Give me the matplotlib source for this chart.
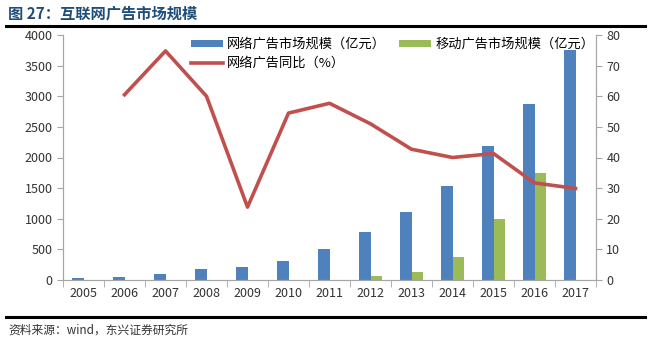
import matplotlib
matplotlib.use("Agg")
import matplotlib.pyplot as plt
import numpy as np

plt.rcParams['font.family'] = ['Noto Sans CJK SC', 'DejaVu Sans']

years = ['2005', '2006', '2007', '2008', '2009', '2010', '2011',
         '2012', '2013', '2014', '2015', '2016', '2017']
online_ad = [38, 49, 103, 174, 212, 315, 506, 776, 1109, 1533, 2180, 2870, 3750]
mobile_ad = [0, 0, 0, 0, 0, 0, 0, 59, 135, 375, 1000, 1745, 0]
growth_years = years[1:]
growth = [60.5, 74.8, 60, 23.8, 54.5, 57.7, 51, 42.7, 40, 41.3, 31.7, 29.9]

blue = '#4F81BD'
green = '#9BBB59'
red = '#C0504D'
grey = '#A6A6A6'

fig = plt.figure(figsize=(6.51, 3.40), dpi=100)
ax = fig.add_axes([63 / 651, 60 / 340, 533 / 651, 245 / 340])
ax2 = ax.twinx()

x = np.arange(len(years))
w = 0.29
ax.bar(x - w / 2, online_ad, w, color=blue, label='网络广告市场规模（亿元）', zorder=2)
ax.bar(x + w / 2, mobile_ad, w, color=green, label='移动广告市场规模（亿元）', zorder=2)
gx = [years.index(y) for y in growth_years]
ax2.plot(gx, growth, color=red, lw=2.6, label='网络广告同比（%）', zorder=3)

ax.set_xlim(-0.5, len(years) - 0.5)
ax.set_ylim(0, 4000)
ax.set_yticks(np.arange(0, 4001, 500))
ax2.set_ylim(0, 80)
ax2.set_yticks(np.arange(0, 81, 10))

ax.set_xticks(x)
ax.set_xticklabels(years)
ax.set_xticks(np.arange(-0.5, len(years), 1), minor=True)
ax.tick_params(axis='x', which='major', length=0, labelsize=9, pad=5, colors='#333333')
ax.tick_params(axis='x', which='minor', length=5, color=grey, direction='out')
ax.tick_params(axis='y', length=4, color=grey, labelsize=9, labelcolor='#333333')
ax2.tick_params(axis='y', length=4, color=grey, labelsize=9, labelcolor='#333333')

for a in (ax, ax2):
    a.spines['top'].set_visible(False)
    for s in ('left', 'right', 'bottom'):
        a.spines[s].set_color(grey)

# column-major fill: blue/line in first column, green in second
h1, l1 = ax.get_legend_handles_labels()
h2, l2 = ax2.get_legend_handles_labels()
handles = [h1[0], h2[0], h1[1]]
labels = [l1[0], l2[0], l1[1]]
ax2.legend(handles, labels, ncol=2, loc='upper left', bbox_to_anchor=(0.23, 1.01),
           frameon=False, fontsize=9.5, handlelength=2.4, handleheight=0.45,
           columnspacing=1.0, labelspacing=0.45, handletextpad=0.35,
           borderaxespad=0)

fig.text(8 / 651, 1 - 13 / 340, '图 27：互联网广告市场规模', fontsize=11, fontweight='bold',
         color='#1F4E79', va='center', ha='left')
fig.add_artist(plt.Line2D([6 / 651, 645 / 651], [1 - 26 / 340, 1 - 26 / 340],
                          color='black', lw=2.2))
fig.add_artist(plt.Line2D([6 / 651, 645 / 651], [1 - 317 / 340, 1 - 317 / 340],
                          color='black', lw=2.2))
fig.text(8 / 651, 1 - 330 / 340, '资料来源：wind，东兴证券研究所', fontsize=8.5,
         color='#333333', va='center', ha='left', style='italic')

fig.savefig('out.png', dpi=100, facecolor='white')
